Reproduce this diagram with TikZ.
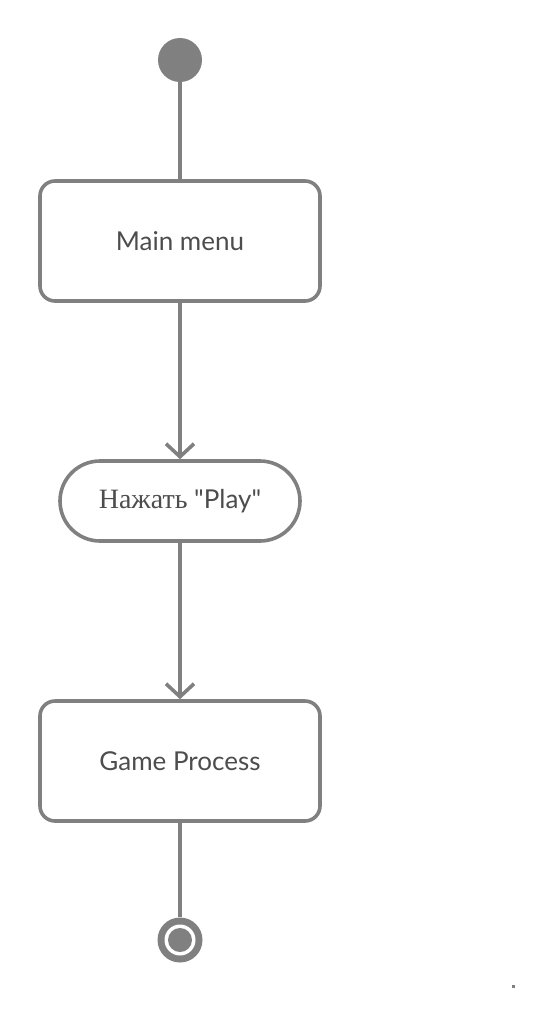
\documentclass[tikz,border=0pt]{standalone}
\usepackage{fontspec}
\setmainfont{Lato}
\newfontfamily\serifcyr{Liberation Serif}
\usetikzlibrary{arrows.meta}
\definecolor{linegray}{HTML}{808080}
\definecolor{textgray}{HTML}{4D4D4D}
\tikzset{
  statebox/.style={draw=linegray, line width=3.6pt, rounded corners=15pt, minimum width=280pt, minimum height=120pt, fill=white, text=textgray, font=\fontsize{26}{30}\selectfont, inner sep=0pt},
  actionpill/.style={draw=linegray, line width=3.6pt, rounded corners=40pt, minimum width=240pt, minimum height=80pt, fill=white, text=textgray, font=\fontsize{26}{30}\selectfont, inner sep=0pt},
  flow/.style={draw=linegray, line width=3.6pt},
  flowarrow/.style={flow, -{Straight Barb[length=13pt, width=28pt, line width=3.6pt]}},
}
\begin{document}
\begin{tikzpicture}[x=1pt, y=-1pt]
\useasboundingbox (0,0) rectangle (554,1026);
\node[circle, fill=linegray, minimum size=44pt, inner sep=0pt] (start) at (180,60) {};
\node[statebox] (menu) at (180,241) {Main menu};
\node[actionpill] (play) at (180,501) {{\serifcyr\fontsize{28}{30}\selectfont Нажать} \textquotedbl Play\textquotedbl};
\node[statebox] (game) at (180,761) {Game Process};
\node[circle, fill=linegray, minimum size=45pt, inner sep=0pt] (end) at (180,940) {};
\node[circle, fill=white, minimum size=31pt, inner sep=0pt] (endring) at (end) {};
\node[circle, fill=linegray, minimum size=24pt, inner sep=0pt] (enddot) at (end) {};
\draw[flow] (start) -- (menu);
\draw[flowarrow] (menu) -- (play);
\draw[flowarrow] (play) -- (game);
\draw[flow] (game) -- (end);
\node[fill=linegray, minimum size=3pt, inner sep=0pt] (speck) at (513,986) {};
\end{tikzpicture}
\end{document}
